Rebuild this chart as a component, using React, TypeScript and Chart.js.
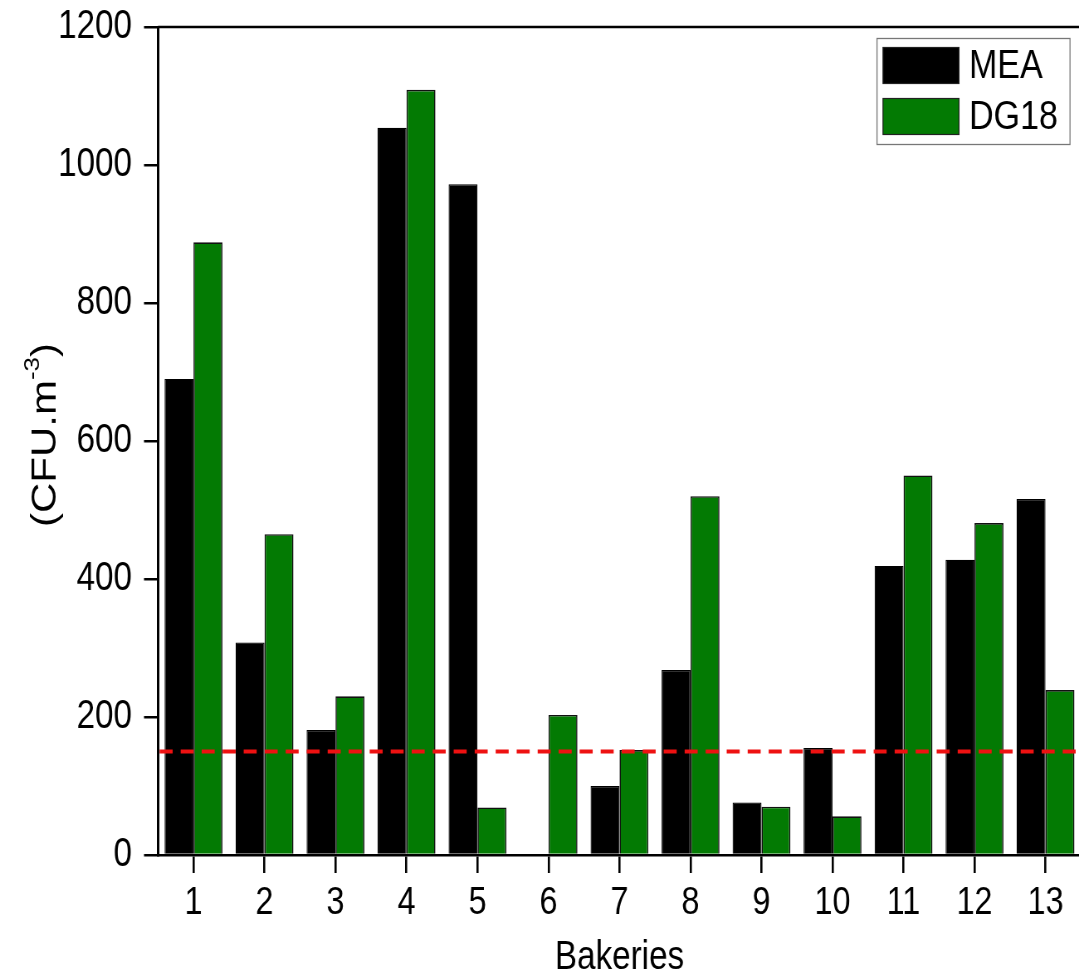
import React, { useEffect, useRef } from "react";
import { Chart, registerables } from "chart.js";

Chart.register(...registerables);

const categories = ["1", "2", "3", "4", "5", "6", "7", "8", "9", "10", "11", "12", "13"];
const meaValues = [690, 308, 181, 1054, 972, 0, 100, 268, 76, 155, 419, 428, 516];
const dg18Values = [888, 465, 230, 1109, 69, 203, 152, 520, 70, 56, 550, 481, 239];
const seriesLabels = ["MEA", "DG18"];
const seriesColors = ["#000000", "#037a03"];
const yMin = 0;
const yMax = 1200;
const yStep = 200;
const limitValue = 150;
const xAxisTitle = "Bakeries";
const yTitleParts = ["(CFU.m", "-3", ")"];

const FONT = "'Liberation Sans', Arial, sans-serif";
// the reference artwork is horizontally condensed; the canvas is drawn wide and squeezed
const SX = 0.83;
const px = (v: number) => v / SX;

const extrasPlugin = {
  id: "extras",
  afterDatasetsDraw(chart: any) {
    const { ctx, chartArea, scales } = chart;
    const y = scales.y.getPixelForValue(limitValue);
    ctx.save();
    // red dashed limit line
    ctx.strokeStyle = "#ee1111";
    ctx.lineWidth = 4;
    ctx.setLineDash([px(13), px(8)]);
    ctx.beginPath();
    ctx.moveTo(chartArea.left + 2, y);
    ctx.lineTo(chartArea.right, y);
    ctx.stroke();
    ctx.setLineDash([]);
    // top border
    ctx.strokeStyle = "#000";
    ctx.lineWidth = 2.5;
    ctx.beginPath();
    ctx.moveTo(chartArea.left, chartArea.top);
    ctx.lineTo(chartArea.right, chartArea.top);
    ctx.stroke();

    // legend
    const lx = px(877), ly = 38, lw = px(193), lh = 106;
    ctx.fillStyle = "#fff";
    ctx.fillRect(lx, ly, lw, lh);
    ctx.strokeStyle = "#777";
    ctx.lineWidth = 1.3;
    ctx.strokeRect(lx, ly + 0.5, lw, lh);
    chart.data.datasets.forEach((ds: any, i: number) => {
      const sy = 47 + i * 51;
      ctx.fillStyle = ds.backgroundColor;
      ctx.fillRect(px(883), sy, px(76), 36);
      ctx.strokeStyle = "#222";
      ctx.lineWidth = 1.2;
      ctx.strokeRect(px(883), sy + 0.5, px(76), 36);
      ctx.fillStyle = "#000";
      ctx.font = `41px ${FONT}`;
      ctx.textBaseline = "middle";
      ctx.textAlign = "left";
      ctx.fillText(ds.label, px(969), sy + 20);
    });

    // y axis title with superscript
    ctx.translate(px(46), 435);
    ctx.rotate(-Math.PI / 2);
    ctx.fillStyle = "#000";
    ctx.textBaseline = "middle";
    ctx.textAlign = "left";
    const mainFont = `42px ${FONT}`;
    const supFont = `26px ${FONT}`;
    ctx.font = mainFont;
    const w1 = ctx.measureText(yTitleParts[0]).width;
    ctx.font = supFont;
    const w2 = ctx.measureText(yTitleParts[1]).width;
    ctx.font = mainFont;
    const w3 = ctx.measureText(yTitleParts[2]).width;
    let x0 = -(w1 + w2 + w3) / 2;
    ctx.fillText(yTitleParts[0], x0, 0);
    x0 += w1;
    ctx.font = supFont;
    ctx.fillText(yTitleParts[1], x0, -16);
    x0 += w2;
    ctx.font = mainFont;
    ctx.fillText(yTitleParts[2], x0, 0);
    ctx.restore();
  },
};

const CANVAS_W = 1320;
const CANVAS_H = 977;

export default function App() {
  const canvasRef = useRef<HTMLCanvasElement | null>(null);

  useEffect(() => {
    if (!canvasRef.current) return;
    const chart = new Chart(canvasRef.current, {
      type: "bar",
      data: {
        labels: categories,
        datasets: [
          {
            label: seriesLabels[0],
            data: meaValues,
            backgroundColor: seriesColors[0],
            borderColor: "#000",
            borderWidth: 1.2,
            categoryPercentage: 0.815,
            barPercentage: 1.0,
          },
          {
            label: seriesLabels[1],
            data: dg18Values,
            backgroundColor: seriesColors[1],
            borderColor: "#111",
            borderWidth: 1.6,
            categoryPercentage: 0.815,
            barPercentage: 1.0,
          },
        ],
      },
      options: {
        animation: false,
        responsive: false,
        maintainAspectRatio: false,
        devicePixelRatio: 1,
        layout: { padding: { left: 0, top: 27, right: CANVAS_W - px(1081), bottom: 0 } },
        plugins: {
          legend: { display: false },
          tooltip: { enabled: false },
        },
        scales: {
          x: {
            offset: true,
            grid: {
              offset: false,
              drawOnChartArea: false,
              drawTicks: true,
              tickLength: 18,
              color: "#000",
              lineWidth: 2.6,
            },
            border: { display: true, color: "#000", width: 2.5 },
            ticks: {
              color: "#000",
              font: { family: FONT, size: 39 },
              padding: 7,
              maxRotation: 0,
            },
            title: {
              display: true,
              text: xAxisTitle,
              color: "#000",
              font: { family: FONT, size: 40 },
              padding: { top: 0, bottom: -5 },
            },
            afterFit(scale: any) {
              scale.height = 122;
              scale.paddingLeft = 0;
              scale.paddingRight = 0;
            },
          },
          y: {
            min: yMin,
            max: yMax,
            ticks: {
              stepSize: yStep,
              color: "#000",
              font: { family: FONT, size: 40 },
              padding: px(12),
              callback: (v: any) => String(v),
            },
            grid: {
              drawOnChartArea: false,
              drawTicks: true,
              tickLength: px(14),
              color: "#000",
              lineWidth: 2.5,
            },
            border: { display: true, color: "#000", width: 3 },
            afterFit(scale: any) {
              scale.width = px(158);
              scale.paddingTop = 0;
              scale.paddingBottom = 0;
            },
          },
        },
      },
      plugins: [extrasPlugin],
    });
    return () => chart.destroy();
  }, []);

  return (
    <div
      style={{
        position: "fixed",
        left: 0,
        top: 0,
        width: 1079,
        height: 977,
        overflow: "hidden",
        background: "#fff",
      }}
    >
      <canvas
        ref={canvasRef}
        width={CANVAS_W}
        height={CANVAS_H}
        style={{
          display: "block",
          width: CANVAS_W,
          height: CANVAS_H,
          transform: `scaleX(${SX})`,
          transformOrigin: "0 0",
        }}
      />
    </div>
  );
}
